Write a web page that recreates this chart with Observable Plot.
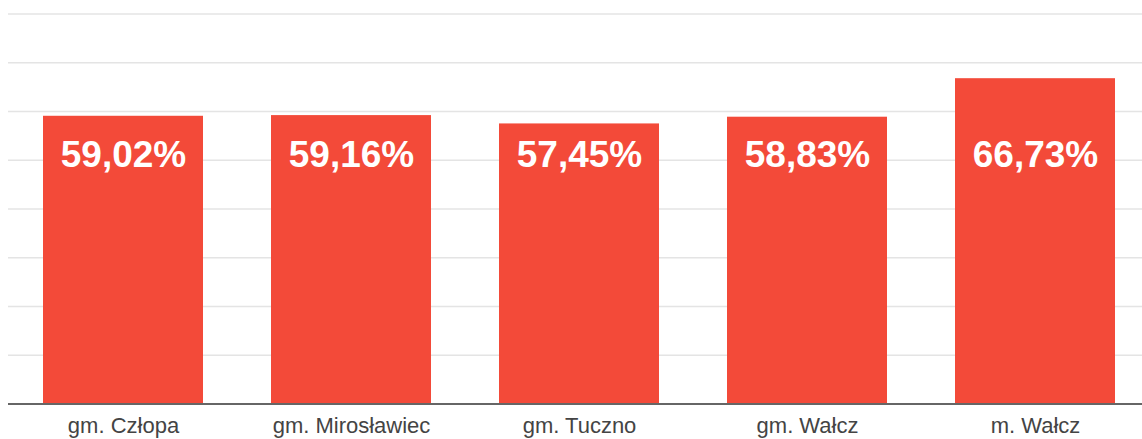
<!DOCTYPE html>
<html>
<head>
<meta charset="utf-8">
<script src="https://cdn.jsdelivr.net/npm/d3@7"></script>
<script src="https://cdn.jsdelivr.net/npm/@observablehq/plot@0.6"></script>
<style>
  html, body { margin: 0; padding: 0; background: #fff; }
  #chart svg { display: block; }
</style>
</head>
<body>
<div id="chart"></div>
<script>
const categories = ["gm. Człopa", "gm. Mirosławiec", "gm. Tuczno", "gm. Wałcz", "m. Wałcz"];
const values = [59.02, 59.16, 57.45, 58.83, 66.73];
const labels = ["59,02%", "59,16%", "57,45%", "58,83%", "66,73%"];
const gridTicks = [10, 20, 30, 40, 50, 60, 70, 80];

const data = categories.map((c, i) => ({category: c, value: values[i], label: labels[i]}));

const chart = Plot.plot({
  width: 1142,
  height: 439,
  marginLeft: 8,
  marginRight: 0,
  marginTop: 13.5,
  marginBottom: 35.5,
  style: {fontFamily: "Liberation Sans, Arial, sans-serif", background: "#fff"},
  x: {domain: categories, range: [9, 1149], paddingInner: 0.3, paddingOuter: 0.15, label: null},
  y: {domain: [0, 80], label: null, axis: null},
  marks: [
    Plot.gridY(gridTicks, {stroke: "#e4e4e4", strokeOpacity: 1, strokeWidth: 1.5}),
    Plot.barY(data, {x: "category", y: "value", fill: "#f34a39"}),
    Plot.text(data, {x: "category", text: "label", frameAnchor: "top", lineAnchor: "middle", fill: "#fff", fontSize: 37, fontWeight: "bold", dy: 141}),
    Plot.ruleY([0], {stroke: "#666", strokeWidth: 2}),
    Plot.axisX({tickSize: 0, tickPadding: 13, fontSize: 22, color: "#444", label: null})
  ]
});
document.getElementById("chart").appendChild(chart);
</script>
</body>
</html>
